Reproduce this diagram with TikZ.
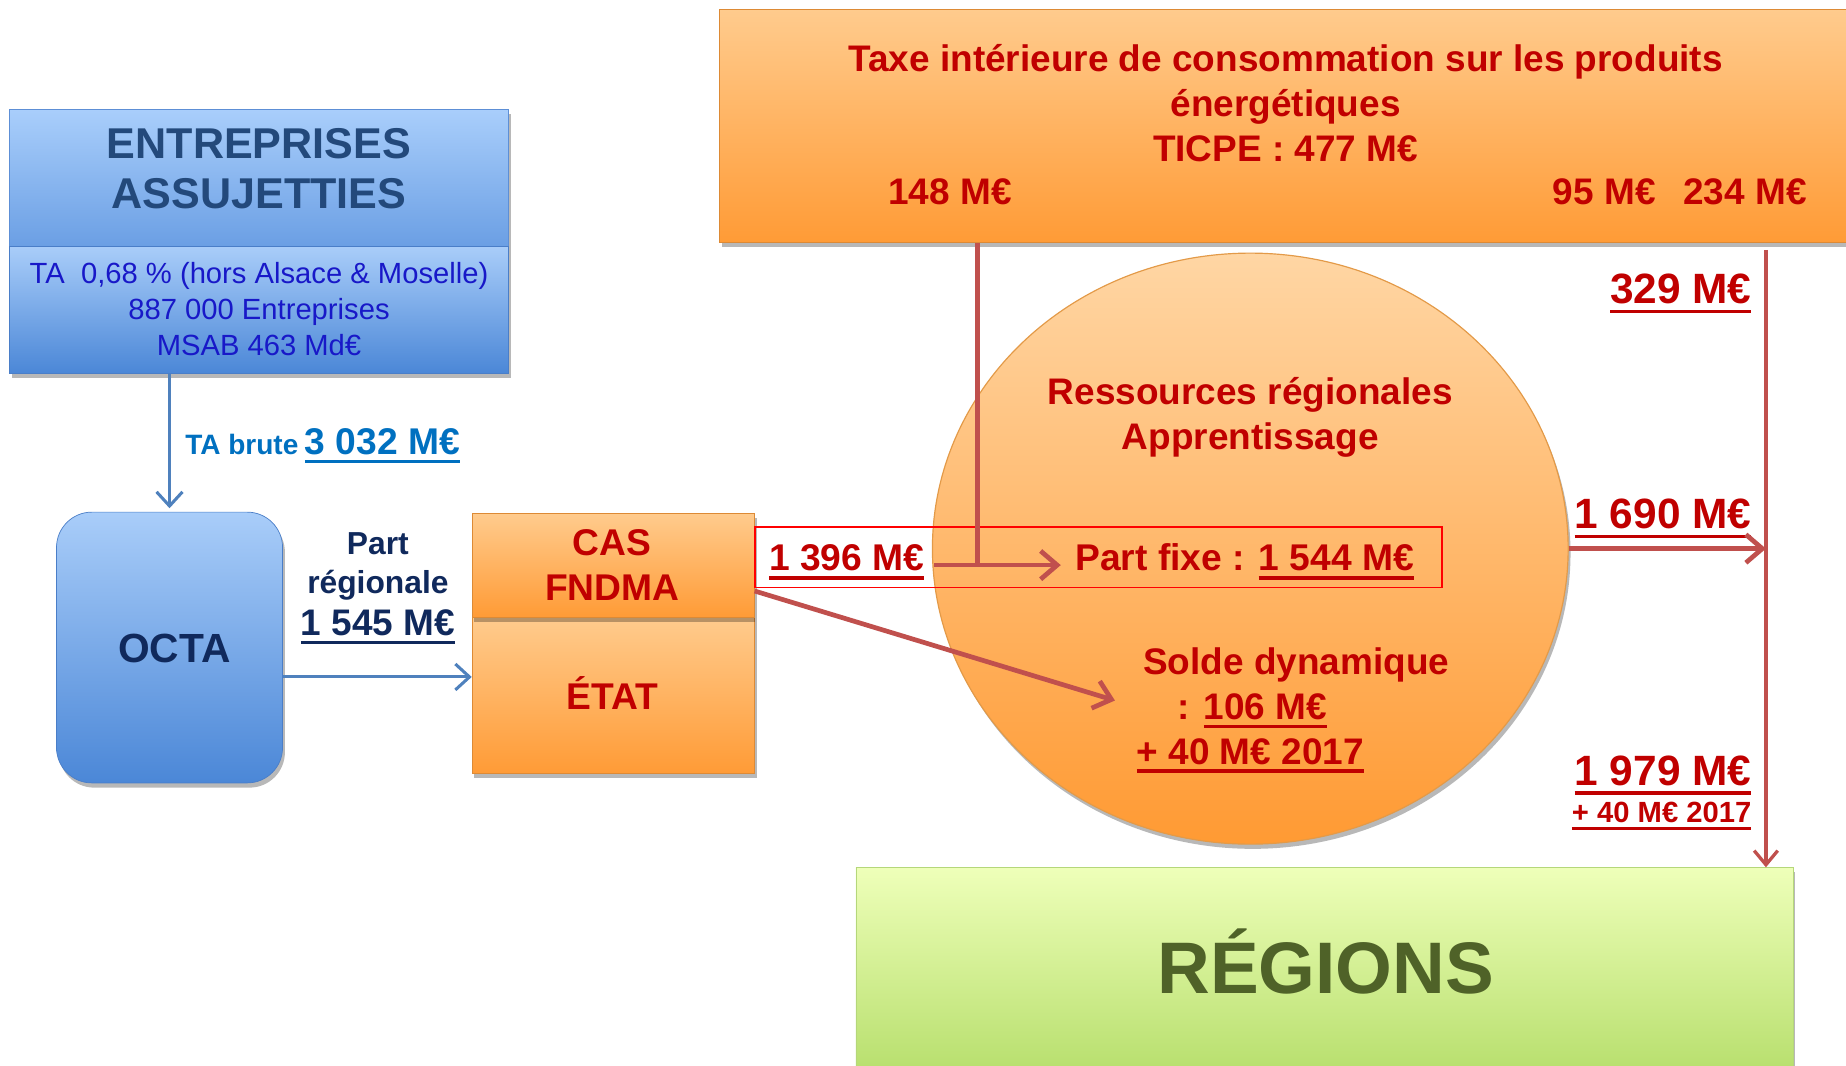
\documentclass[tikz,border=0pt]{standalone}
\usepackage{fontspec}
\setmainfont{Liberation Sans}
\usetikzlibrary{arrows.meta,shadows,fit,shapes.geometric}
\definecolor{dred}{HTML}{C00000}
\definecolor{arr}{HTML}{C0504D}
\definecolor{blu}{HTML}{4F81BD}
\definecolor{tblue}{HTML}{0070C0}
\definecolor{navy}{HTML}{10295C}
\definecolor{headblue}{HTML}{23497B}
\definecolor{subblue}{HTML}{1818C8}
\definecolor{olive}{HTML}{4F6228}
\definecolor{bA}{HTML}{A9CEFB}
\definecolor{bB}{HTML}{6B9FE4}
\definecolor{bBd}{HTML}{5D8FD6}
\definecolor{bC}{HTML}{A9CDF9}
\definecolor{bD}{HTML}{4B87D7}
\definecolor{bDd}{HTML}{4A7EC8}
\definecolor{oA}{HTML}{FFCB8D}
\definecolor{oB}{HTML}{FF9B36}
\definecolor{oD}{HTML}{DD8A35}
\definecolor{eA}{HTML}{FFD6A4}
\definecolor{eB}{HTML}{FF9A33}
\definecolor{eD}{HTML}{E39A48}
\definecolor{gA}{HTML}{EEFFB9}
\definecolor{gB}{HTML}{A8D658}
\definecolor{gD}{HTML}{B5D77A}
\definecolor{rbox}{HTML}{FF0000}
\newcommand\fsz[1]{\fontsize{#1}{#1}\selectfont}
\newcommand\myul[1]{\setbox0\hbox{#1}\rlap{\rule[-0.23em]{\wd0}{0.085em}}\box0}
\begin{document}
\begin{tikzpicture}[x=0.5pt,y=-0.5pt,
  sh/.style={drop shadow={shadow xshift=1pt,shadow yshift=-2pt,opacity=0.28,fill=black}},
  bluebox/.style={sh,inner sep=0pt,top color=bA,bottom color=bB,draw=bBd,line width=0.3pt},
  bluebox2/.style={sh,inner sep=0pt,top color=bC,bottom color=bD,draw=bDd,line width=0.3pt},
  orbox/.style={sh,inner sep=0pt,top color=oA,bottom color=oB,draw=oD,line width=0.3pt},
  grbox/.style={sh,inner sep=0pt,top color=gA,bottom color=gB,draw=gD,line width=0.3pt},
  t/.style={inner sep=0pt,anchor=base},
  bluearr/.style={draw=blu,line width=1.3pt,-{Straight Barb[length=6pt,width=11pt]}},
  redarr/.style={draw=arr,line width=2pt,-{Straight Barb[length=7pt,width=12pt]}},
  redline/.style={draw=arr,line width=2pt},
  redthin/.style={draw=arr,line width=1.4pt}]
\useasboundingbox (0,0) rectangle (1568,905);
\clip (0,0) rectangle (1568,905);

% boxes
\node[bluebox,fit={(8,93)(432,209)}] (entTop) {};
\node[bluebox2,fit={(8,209)(432,317)}] (entBot) {};
\node[bluebox2,rounded corners=15pt,fit={(48,435)(240,665)}] (octa) {};
\node[orbox,fit={(401,524)(641,657)}] (etat) {};
\node[orbox,fit={(401,436)(641,524)}] (cas) {};
\node[orbox,fit={(611,8)(1600,206)}] (ticpe) {};
\node[sh,ellipse,inner sep=0pt,minimum width=270pt,minimum height=251pt,top color=eA,bottom color=eB,draw=eD,line width=0.5pt] (circ) at (1062,466) {};
\node[grbox,fit={(727,737)(1523,960)}] (regions) {};
\node[draw=rbox,line width=0.8pt,inner sep=0pt,fit={(641,448)(1225,499)}] (redbox) {};

% texts
\node[t,text=headblue,font={\fsz{18.3}\bfseries}] (h1) at (220,134.5) {ENTREPRISES};
\node[t,text=headblue,font={\fsz{18.3}\bfseries}] (h2) at (220,177.5) {ASSUJETTIES};
\node[t,text=subblue,font={\fsz{12.4}}] (s1) at (220,241) {TA\ \ 0,68 \% (hors Alsace \& Moselle)};
\node[t,text=subblue,font={\fsz{12.4}}] (s2) at (220,271) {887 000 Entreprises};
\node[t,text=subblue,font={\fsz{12.4}}] (s3) at (220,302) {MSAB 463 Md€};

\node[t,anchor=base west,text=tblue,font=\bfseries] (tab) at (157,386) {{\fsz{11.9}TA brute} {\fsz{15.8}\myul{3 032 M€}}};

\node[t,text=navy,font={\fsz{17.3}\bfseries}] (octaT) at (148,563) {OCTA};
\node[t,text=navy,font={\fsz{13.5}\bfseries}] (pr1) at (321,471) {Part};
\node[t,text=navy,font={\fsz{13.5}\bfseries}] (pr2) at (321,504) {régionale};
\node[t,text=navy,font={\fsz{15.7}\bfseries}] (pr3) at (321,540) {\myul{1 545 M€}};

\node[t,text=dred,font={\fsz{15.8}\bfseries}] (casT) at (520,472) {CAS};
\node[t,text=dred,font={\fsz{15.8}\bfseries}] (fnd) at (520,510) {FNDMA};
\node[t,text=dred,font={\fsz{15.8}\bfseries}] (etatT) at (520,603) {ÉTAT};

\node[t,text=dred,font={\fsz{15.7}\bfseries}] (tx1) at (1092,61) {Taxe intérieure de consommation sur les produits};
\node[t,text=dred,font={\fsz{15.7}\bfseries}] (tx2) at (1092,99) {énergétiques};
\node[t,text=dred,font={\fsz{15.7}\bfseries}] (tx3) at (1092,137) {TICPE : 477 M€};
\node[t,text=dred,font={\fsz{15.7}\bfseries}] (v148) at (807,174) {148 M€};
\node[t,anchor=base east,text=dred,font={\fsz{15.7}\bfseries}] (v95) at (1535,174) {95 M€\hspace{0.75em}234 M€};

\node[t,text=dred,font={\fsz{15.7}\bfseries}] (rr1) at (1062,344) {Ressources régionales};
\node[t,text=dred,font={\fsz{15.7}\bfseries}] (rr2) at (1062,382) {Apprentissage};

\node[t,anchor=base west,text=dred,font={\fsz{15.8}\bfseries}] (v1396) at (653,485) {\myul{1 396 M€}};
\node[t,anchor=base west,text=dred,font={\fsz{15.8}\bfseries}] (pf) at (913,485) {Part fixe : \myul{1 544 M€}};

\node[t,text=dred,font={\fsz{15.7}\bfseries}] (sd1) at (1101,573) {Solde dynamique};
\node[t,anchor=base west,text=dred,font={\fsz{15.7}\bfseries}] (sd2) at (1000,611) {: \myul{106 M€}};
\node[t,text=dred,font={\fsz{15.7}\bfseries}] (sd3) at (1062,649) {\myul{+ 40 M€ 2017}};

\node[t,anchor=base east,text=dred,font={\fsz{18}\bfseries}] (v329) at (1488,258) {\myul{329 M€}};
\node[t,anchor=base east,text=dred,font={\fsz{18}\bfseries}] (v1690) at (1488,449) {\myul{1 690 M€}};
\node[t,anchor=base east,text=dred,font={\fsz{18}\bfseries}] (v1979) at (1488,667) {\myul{1 979 M€}};
\node[t,anchor=base east,text=dred,font={\fsz{12.4}\bfseries}] (v40) at (1488,699) {\myul{+ 40 M€ 2017}};

\node[t,text=olive,font={\fsz{31}\bfseries}] (regT) at (1126,844) {RÉGIONS};

% connectors
\coordinate (xa) at (144,0);
\coordinate (ya) at (0,575);
\coordinate (j1) at (830,480);
\coordinate (xr) at (1500,0);
\coordinate (sdtip) at (947,595);
\coordinate (casout) at (641,502);

\draw[bluearr] (entBot.south -| xa) -- ([yshift=1.5pt]octa.north -| xa);
\draw[bluearr] (octa.east |- ya) -- (etat.west |- ya);
\draw[redline] (ticpe.south -| j1) -- (j1);
\draw[redarr] ([xshift=4pt]v1396.east |- j1) -- ([xshift=-6pt]pf.west |- j1);
\draw[redarr] (casout) -- (sdtip);
\draw[redthin,-{Straight Barb[length=6pt,width=10pt]}] ([yshift=-3pt]ticpe.south -| xr) -- (regions.north -| xr);
\draw[redarr] (circ.east) -- (circ.east -| xr);
\end{tikzpicture}
\end{document}
